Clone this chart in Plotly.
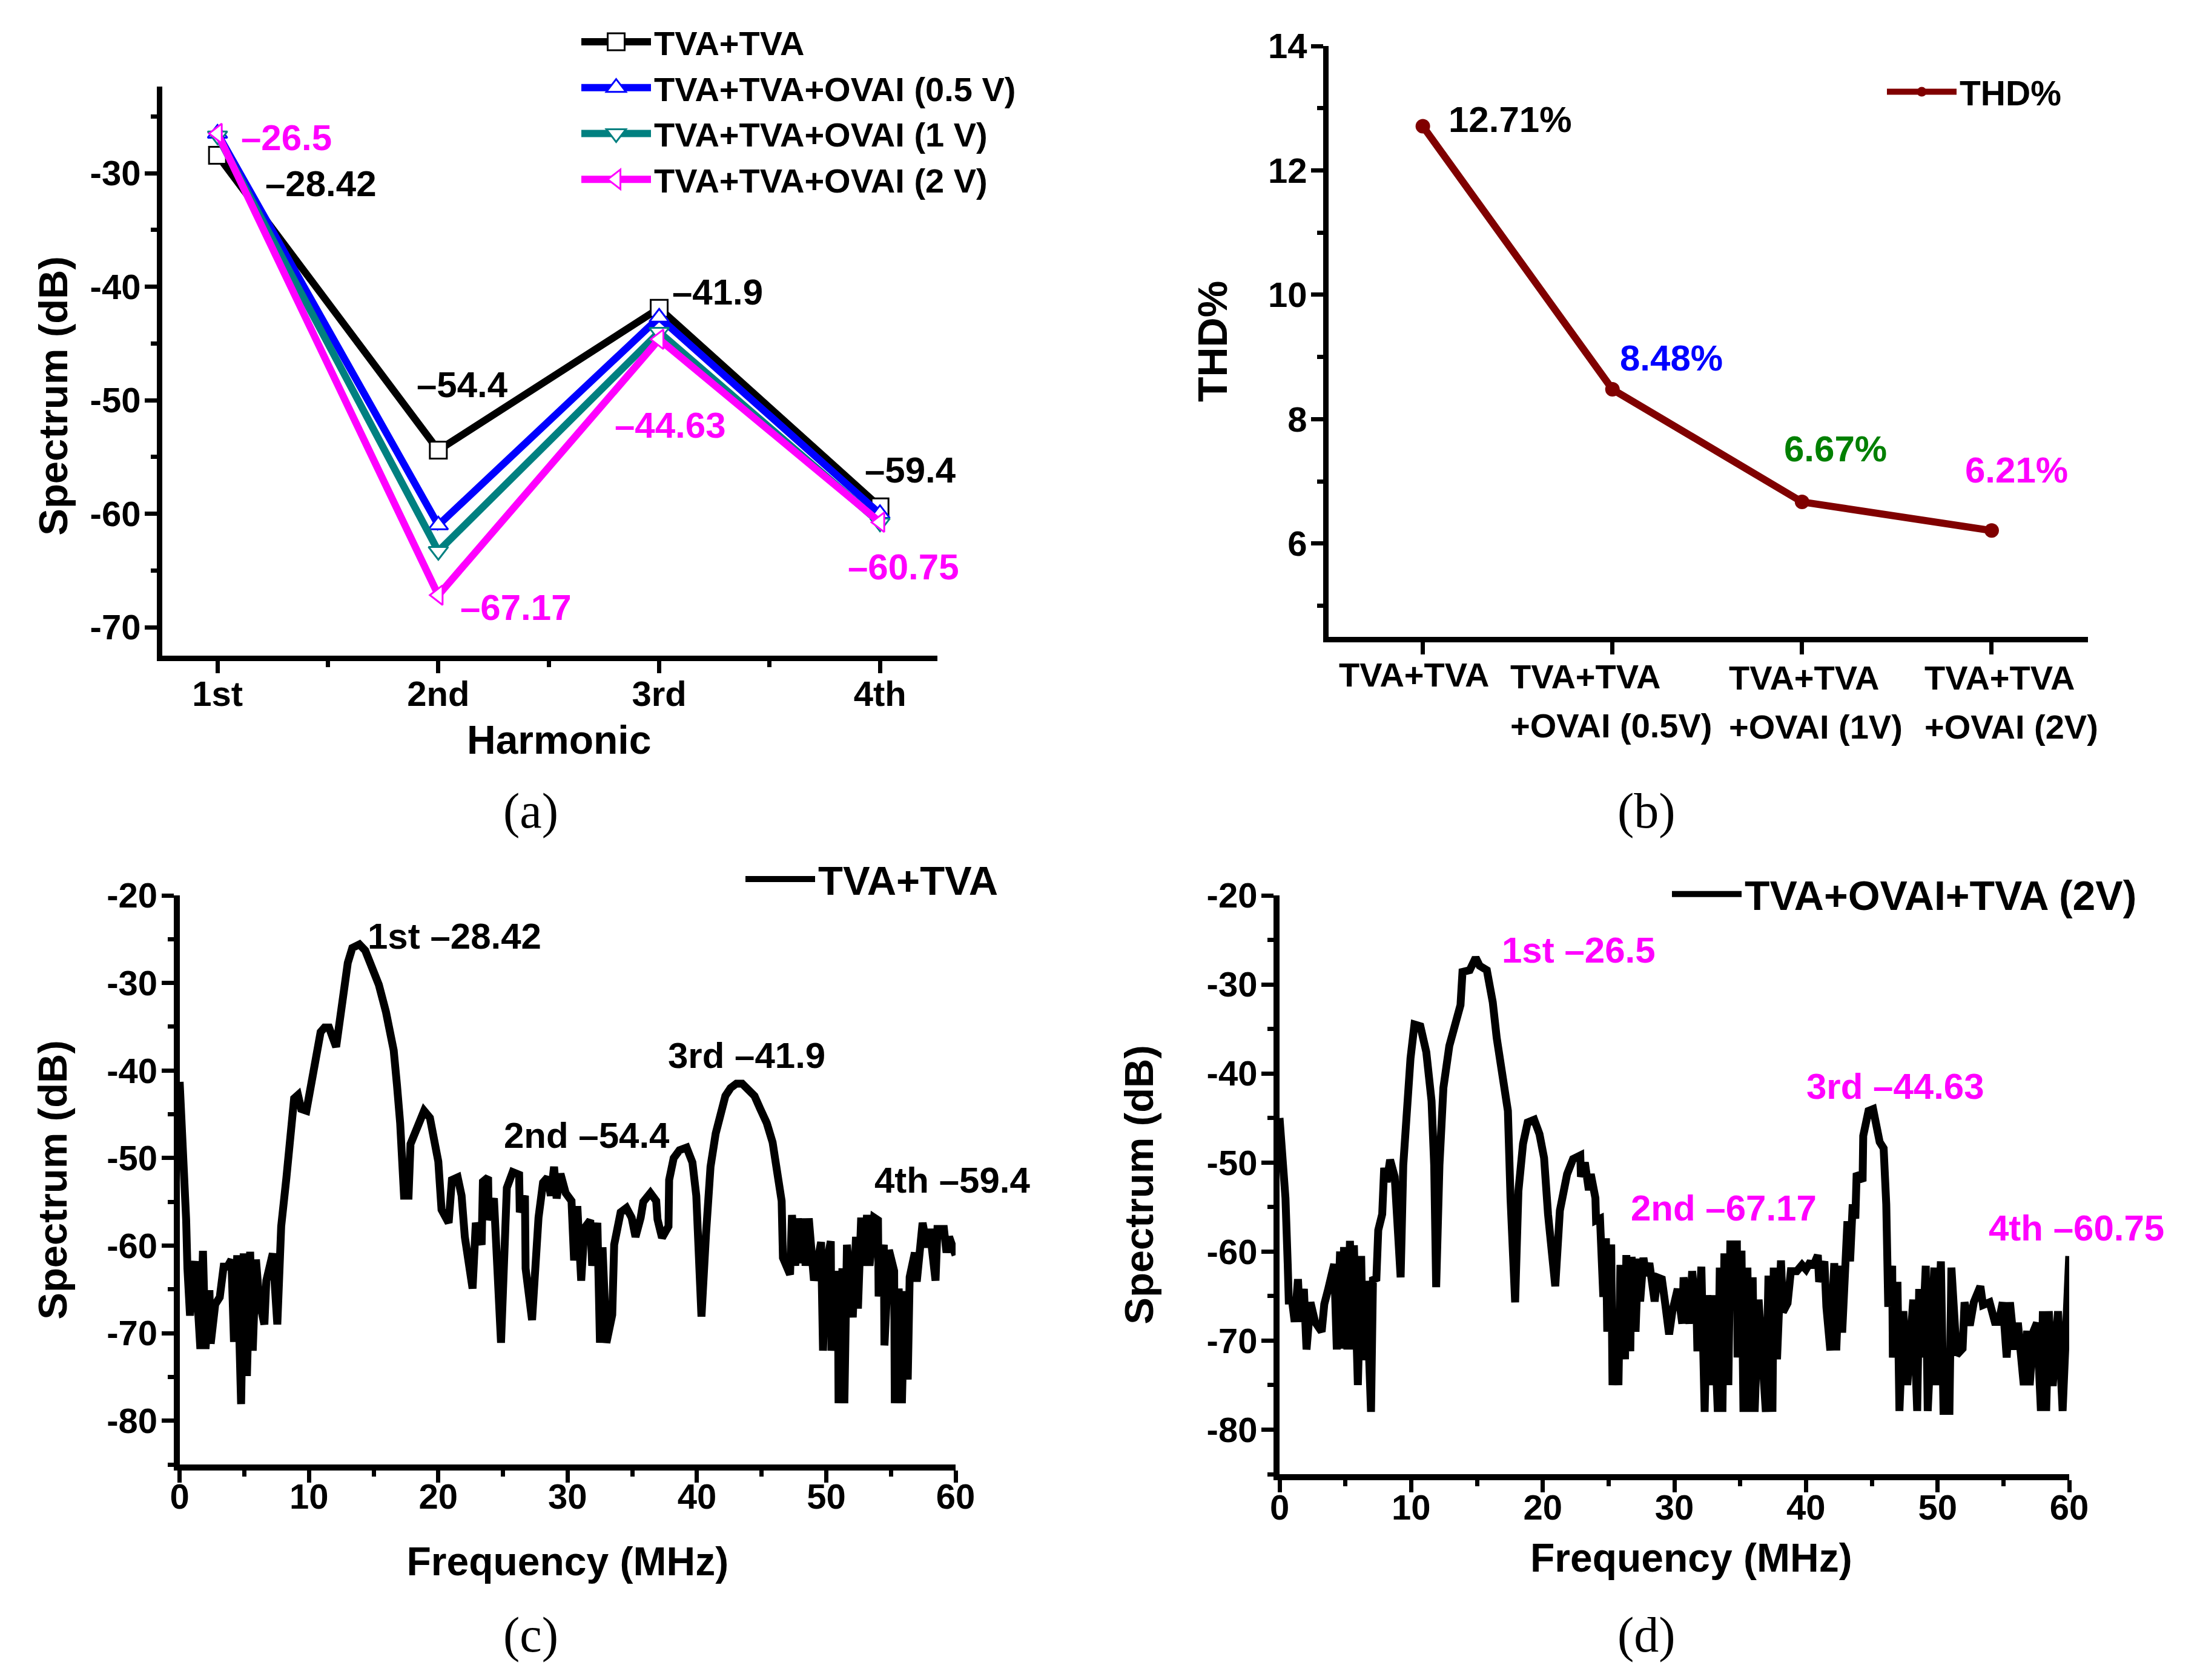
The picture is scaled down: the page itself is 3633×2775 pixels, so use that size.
import plotly.graph_objects as go

W, H = 3633, 2775
FONT = "Liberation Sans"

# Panel (a): harmonic levels
harm_pos = [1, 2, 3, 4]
harm_labels = ["1st", "2nd", "3rd", "4th"]
tva = [-28.42, -54.4, -41.9, -59.4]
ovai_05 = [-26.5, -61.0, -42.7, -60.0]
ovai_1 = [-26.7, -63.3, -44.0, -60.8]
ovai_2 = [-26.5, -67.17, -44.63, -60.75]
a_yticks = [-70, -60, -50, -40, -30]
a_yticklabels = ["-70", "-60", "-50", "-40", "-30"]

# Panel (b): THD
thd_pos = [1, 2, 3, 4]
thd_vals = [12.71, 8.48, 6.67, 6.21]
thd_labels = ["TVA+TVA", "TVA+TVA<br>+OVAI (0.5V)", "TVA+TVA<br>+OVAI (1V)", "TVA+TVA<br>+OVAI (2V)"]

# Panels (c), (d)
spec_yticks = [-80, -70, -60, -50, -40, -30, -20]
spec_yticklabels = ["-80", "-70", "-60", "-50", "-40", "-30", "-20"]

c_freq = [0, .3, .5, .6, .8, 1, 1.2, 1.6, 1.8, 2, 2.3, 2.4, 2.75, 3.1, 3.4, 3.7, 4, 4.2, 4.45, 4.75, 4.95, 5.2, 5.45,
          5.65, 5.9, 6.15, 6.55, 6.7, 7.2, 7.55, 7.85, 8.25, 8.55, 8.85, 9.15, 9.4, 9.8, 10.2, 10.5, 10.9, 11.2, 11.55,
          12.1, 12.4, 12.65, 13, 13.35, 13.9, 14.35, 14.8, 15.4, 15.95, 16.55, 16.8, 17.05, 17.35, 17.7, 17.85, 18.25,
          18.9, 19.35, 19.75, 20, 20.25, 20.8, 21.05, 21.5, 21.8, 22.05, 22.65, 22.9, 23.35, 23.45, 23.85, 23.9, 24.3,
          24.55, 24.85, 25.3, 25.75, 26.25, 26.3, 26.7, 26.75, 27.25, 27.75, 28.1, 28.45, 28.7, 28.95, 29.15, 29.45,
          29.85, 30.3, 30.5, 30.75, 31.05, 31.3, 31.75, 31.9, 32.3, 32.5, 32.7, 33, 33.45, 33.6, 34.1, 34.55, 34.95,
          35.25, 35.65, 35.85, 36.4, 36.85, 36.95, 37.3, 37.8, 37.85, 38.2, 38.65, 39.2, 39.65, 39.95, 40.35, 40.7,
          41.05, 41.45, 41.8, 42.2, 42.6, 43.05, 43.5, 44, 44.45, 44.9, 45.4, 45.85, 46.2, 46.55, 46.65, 47.2, 47.35,
          47.6, 47.8, 48.1, 48.25, 48.4, 48.65, 49.05, 49.6, 49.75, 49.95, 50.35, 50.4, 50.9, 50.95, 51.25, 51.4, 51.6,
          52.05, 52.3, 52.45, 52.7, 52.9, 53.15, 53.35, 53.7, 54, 54.05, 54.45, 54.5, 54.85, 55.25, 55.3, 55.6, 55.85,
          56.05, 56.3, 56.45, 56.85, 57, 57.45, 57.8, 58, 58.45, 58.6, 59.1, 59.3, 59.5, 60]
c_db = [-41.3, -49.1, -57, -62.6, -68, -63.4, -61.8, -71.8, -60.6, -71.8, -65.1, -71.2, -66.7, -65.9, -62.4, -62.4, -61.6,
        -71, -61.1, -78.1, -60.9, -74.9, -60.7, -72, -61.6, -66.2, -69, -64, -60.9, -69, -57.8, -52.3, -46.8, -43.2,
        -42.8, -44.4, -44.6, -41.2, -38.5, -35.6, -35.1, -35.1, -37.3, -34.1, -30.6, -27.7, -26, -25.6, -26.3, -27.9,
        -30.2, -33.3, -37.7, -41.6, -46, -54.3, -54.3, -48.4, -46.8, -44.6, -45.4, -48.2, -50.4, -55.9, -57.4, -52.5,
        -52.2, -54.3, -59, -64.9, -57.4, -59.9, -52.7, -52.2, -57.1, -54.6, -61.7, -71.1, -53.4, -51.6, -51.9, -56.2,
        -54.3, -62.6, -68.5, -56.8, -52.8, -52.2, -54.3, -51, -54.6, -51.8, -54, -54.9, -61.7, -55.5, -64, -58, -57.1,
        -62.3, -57.4, -71.1, -60.2, -71.1, -67.9, -59.9, -56.2, -55.7, -56.8, -59, -56.8, -55, -54, -54.9, -57, -59.1,
        -57.8, -52.5, -50, -49.1, -48.8, -50.5, -54.3, -68.1, -58.7, -51, -47.2, -44.8, -42.9, -42, -41.5, -41.5, -42.1,
        -42.9, -44.4, -46, -48.2, -51, -54.9, -61.4, -63.3, -56.5, -62.3, -56.9, -62, -56.9, -62.3, -56.9, -64, -59.6,
        -72, -62.6, -59.5, -72, -62.9, -78, -62.6, -78, -59.9, -68.2, -59, -67.2, -56.8, -62.3, -56.5, -62.3, -56.8,
        -57.1, -65.8, -59.9, -71.4, -60.5, -62.9, -78, -64.9, -78, -65.2, -75.3, -63.6, -60.8, -64.1, -57.4, -60.2,
        -58.1, -64, -58.1, -58.1, -60.8, -59, -61.1]

d_freq = [0, .45, .62, .7, .95, 1.15, 1.4, 1.55, 1.85, 2.05, 2.35, 2.7, 3.2, 3.4, 3.7, 4.15, 4.35, 4.6, 4.75, 4.9, 5.15,
          5.35, 5.5, 5.65, 5.95, 6.2, 6.35, 6.6, 6.95, 7.1, 7.35, 7.5, 7.8, 7.95, 8.15, 8.4, 8.75, 9.2, 9.4, 9.7, 9.95,
          10.25, 10.7, 11.15, 11.55, 11.75, 11.9, 12.15, 12.45, 12.9, 13.35, 13.75, 13.9, 14.45, 14.9, 15.2, 15.75,
          16.2, 16.5, 16.85, 17.35, 17.55, 17.9, 18.15, 18.5, 18.85, 19.35, 19.75, 20.1, 20.4, 20.95, 21.3, 21.85, 22.3,
          22.85, 22.9, 23.2, 23.5, 23.65, 24, 24.05, 24.35, 24.5, 24.6, 24.8, 24.9, 25.2, 25.3, 25.5, 25.75, 25.9, 26.25,
          26.35, 26.65, 26.75, 27.05, 27.25, 27.4, 27.65, 27.85, 28.1, 28.5, 28.7, 29.05, 29.3, 29.6, 29.85, 30.25, 30.6,
          30.7, 31.15, 31.35, 31.7, 31.75, 32.05, 32.3, 32.5, 32.8, 32.95, 33.3, 33.45, 33.65, 33.8, 34.1, 34.25, 34.75,
          34.8, 35.1, 35.25, 35.55, 35.7, 35.95, 36.1, 36.4, 36.95, 37.15, 37.45, 37.55, 37.8, 38.1, 38.25, 38.6, 38.85,
          39.3, 39.7, 40, 40.35, 40.5, 40.9, 41, 41.4, 41.55, 41.85, 42.15, 42.3, 42.55, 42.75, 43.05, 43.15, 43.35,
          43.55, 43.75, 43.85, 44.3, 44.35, 44.75, 45.1, 45.6, 45.9, 46.1, 46.2, 46.25, 46.55, 46.6, 46.95, 47.1, 47.4,
          47.7, 48.15, 48.45, 48.6, 48.8, 49.1, 49.25, 49.75, 49.9, 50.25, 50.45, 50.9, 51.05, 51.45, 51.9, 52.05, 52.45,
          52.75, 53.25, 53.45, 53.95, 54.35, 54.65, 54.95, 55.25, 55.5, 55.85, 56.1, 56.55, 56.8, 57, 57.3, 57.55, 57.85,
          58, 58.25, 58.45, 58.75, 59.15, 59.5, 60]
d_db = [-45, -54, -61.4, -65.5, -65.5, -67.9, -63.1, -67.9, -64.2, -71, -65.7, -67.9, -69, -65.9, -64.2, -61.4, -71, -60,
        -70.9, -59.5, -71, -58.8, -71, -59.3, -75, -60.5, -72.2, -63.3, -78, -62.9, -63.3, -57.6, -55.8, -50.6, -52.2,
        -49.7, -51.6, -62.9, -50.3, -42, -38.3, -34.5, -34.7, -37.6, -43.1, -50.3, -64, -50.3, -41.6, -36.9, -34.2,
        -32.3, -28.6, -28.4, -27, -27.9, -28.4, -32, -36, -39.8, -44.2, -54, -65.7, -53.2, -47.9, -45.5, -45.2, -46.8,
        -49.5, -55.8, -63.9, -55.4, -51.3, -49.6, -49.2, -51.6, -50, -53.1, -51.3, -54, -56.5, -56.3, -61.1, -65.1,
        -58.5, -69, -59.2, -75, -69, -75, -61.5, -72.1, -60.4, -71.2, -60.6, -69, -60.8, -65.6, -60.7, -62.7, -61.3,
        -65.6, -62.9, -63.1, -65.8, -69.3, -66.7, -64.2, -68.1, -62.9, -68.1, -62.2, -67.8, -71.2, -61.7, -78, -64.9,
        -75, -64.9, -78, -61.8, -78, -60.2, -75, -59.2, -59.2, -71.9, -59.9, -78, -61.8, -78, -62.9, -78, -65.4, -78,
        -62.7, -78, -61.8, -72.1, -61, -66.8, -65.8, -62.2, -62.2, -61.5, -62, -61.1, -61.8, -60.4, -63.4, -61.1, -66.2,
        -71.1, -61.3, -71.1, -61.6, -69.1, -61.8, -56.6, -61.1, -54.7, -56.3, -51.2, -52.1, -47, -44.2, -44, -47.7,
        -48.4, -54.7, -62.1, -66.2, -61.6, -71.9, -63.4, -77.9, -66.7, -75, -65.4, -77.9, -64.2, -71.9, -61.6, -77.9,
        -61.8, -75, -61.1, -77.9, -77.9, -61.8, -71.6, -70.9, -65.7, -68.3, -65.7, -63.9, -66, -65.7, -67.9, -67.9,
        -65.7, -71.9, -65.7, -71, -68, -75, -68.9, -75, -68.9, -68, -77.9, -66.7, -77.9, -66.7, -75.1, -66.7, -77.9, -60.5]


def xdom(a, b):
    return [a / W, b / W]


def ydom(top, bottom):
    return [1 - bottom / H, 1 - top / H]


fig = go.Figure()

styles_a = [("TVA+TVA", tva, "#000000", "square"),
            ("TVA+TVA+OVAI (0.5 V)", ovai_05, "#0000FF", "triangle-up"),
            ("TVA+TVA+OVAI (1 V)", ovai_1, "#008080", "triangle-down"),
            ("TVA+TVA+OVAI (2 V)", ovai_2, "#FF00FF", "triangle-left")]
for name, vals, col, sym in styles_a:
    fig.add_trace(go.Scatter(x=harm_pos, y=vals, name=name, mode="lines+markers", xaxis="x", yaxis="y", legend="legend",
                             line=dict(color=col, width=12),
                             marker=dict(symbol=sym, size=28, color="white", line=dict(color=col, width=3))))
fig.add_trace(go.Scatter(x=thd_pos, y=thd_vals, name="THD%", mode="lines+markers", xaxis="x2", yaxis="y2", legend="legend2",
                         line=dict(color="#800000", width=12), marker=dict(symbol="circle", size=24, color="#800000")))
fig.add_trace(go.Scatter(x=c_freq, y=c_db, name="TVA+TVA", mode="lines", xaxis="x3", yaxis="y3", legend="legend3",
                         line=dict(color="black", width=13)))
fig.add_trace(go.Scatter(x=d_freq, y=d_db, name="TVA+OVAI+TVA (2V)", mode="lines", xaxis="x4", yaxis="y4", legend="legend4",
                         line=dict(color="black", width=13)))

TICKF = dict(family=FONT, size=58, color="black", weight=700)


def axis(domain, rng, lw=9, title=None, standoff=20, tsize=66, minor=None, **kw):
    m = dict(ticks="outside", ticklen=10, tickwidth=7, tickcolor="black", showgrid=False)
    if minor:
        m.update(minor)
    d = dict(domain=domain, range=rng, showline=True, linewidth=lw, linecolor="black", showgrid=False, zeroline=False,
             automargin=False, ticks="outside", ticklen=20, tickwidth=7, tickcolor="black", tickfont=TICKF, minor=m)
    if title:
        d["title"] = dict(text=title, font=dict(family=FONT, size=tsize, color="black", weight=700), standoff=standoff)
    d.update(kw)
    return d


def legend_box(x, y, size=57, iw=115):
    return dict(x=x / W, y=1 - y / H, xanchor="left", yanchor="top", bgcolor="rgba(0,0,0,0)", borderwidth=0,
                font=dict(family=FONT, size=size, color="black", weight=700), itemwidth=iw, itemsizing="trace",
                tracegroupgap=0)


fig.update_layout(
    width=W, height=H, margin=dict(l=0, r=0, t=0, b=0), autosize=False, paper_bgcolor="white", plot_bgcolor="white",
    font=dict(family=FONT, color="black", weight=700),
    xaxis=axis(xdom(268, 1548), [0.75, 4.26], anchor="y", tickmode="array", tickvals=harm_pos,
               ticktext=harm_labels, ticklabelstandoff=-16, minor=dict(tickmode="array", tickvals=[1.5, 2.5, 3.5])),
    yaxis=axis(ydom(143, 1083), [-72.5, -22.37], anchor="x", tickmode="array",
               tickvals=a_yticks, ticktext=a_yticklabels, ticklabelstandoff=-5, minor=dict(dtick=5, tick0=-70)),
    xaxis2=axis(xdom(2194, 3448), [0.503, 4.508], anchor="y2", tickmode="array", tickvals=thd_pos, showticklabels=False,
                minor=dict(ticks="")),
    yaxis2=axis(ydom(76, 1052), [4.5, 14], anchor="x2", title="THD%", standoff=49, tsize=68, dtick=2, tick0=6,
                ticklabelstandoff=-5, minor=dict(dtick=1, tick0=5)),
    xaxis3=axis(xdom(296.7, 1578), [0, 60], lw=10, anchor="y3", title="Frequency (MHz)", standoff=57, dtick=10, tick0=0,
                ticklabelstandoff=-27, minor=dict(dtick=5, tick0=0)),
    yaxis3=axis(ydom(1479, 2419), [-85, -20], lw=10, anchor="x3", title="Spectrum (dB)", standoff=48, tsize=67, tickmode="array",
                tickvals=spec_yticks, ticktext=spec_yticklabels, ticklabelstandoff=-5, minor=dict(dtick=5, tick0=-85)),
    xaxis4=axis(xdom(2113, 3417), [0, 60], lw=10, anchor="y4", dtick=10, tick0=0,
                ticklabelstandoff=-25, minor=dict(dtick=5, tick0=0)),
    yaxis4=axis(ydom(1479, 2435), [-85, -20], lw=10, anchor="x4", title="Spectrum (dB)", standoff=70, tsize=67, tickmode="array",
                tickvals=spec_yticks, ticktext=spec_yticklabels, ticklabelstandoff=-5, minor=dict(dtick=5, tick0=-85)),
    legend=legend_box(955, 26, size=56),
    legend2=legend_box(3111, 108),
    legend3=legend_box(1226, 1402, size=67),
    legend4=legend_box(2756, 1426, size=68),
)

S = 2.318
MAG, BLK = "#FF00FF", "#000000"
labels = [
    ("–26.5", 171, 98, MAG), ("–28.42", 188, 131, BLK), ("–41.9", 478, 208, BLK), ("–54.4", 296, 274, BLK),
    ("–44.63", 437, 303, MAG), ("–59.4", 615, 335, BLK), ("–60.75", 603, 404, MAG), ("–67.17", 327, 433, MAG),
    ("12.71%", 1031, 85, BLK), ("8.48%", 1153, 255, "#0000FF"), ("6.67%", 1270, 320, "#008000"), ("6.21%", 1399, 335, MAG),
    ("1st –28.42", 261, 667, BLK), ("3rd –41.9", 475, 752, BLK), ("2nd –54.4", 358, 809, BLK), ("4th –59.4", 622, 841, BLK),
    ("1st –26.5", 1069, 677, MAG), ("3rd –44.63", 1286, 774, MAG), ("2nd –67.17", 1161, 861, MAG), ("4th –60.75", 1416, 875, MAG),
]
ann = []
for t, x, y, c in labels:
    ann.append(dict(text=t, x=x * S / W, y=1 - y * S / H, xref="paper", yref="paper", xanchor="left", yanchor="middle",
                    showarrow=False, font=dict(family=FONT, size=60, color=c, weight=700)))
thd_left = [953, 1075, 1231, 1370]
thd_top = [481, 482, 483, 483]
for t, x, y in zip(thd_labels, thd_left, thd_top):
    for i, line in enumerate(t.split("<br>")):
        ann.append(dict(text=line, x=x * S / W, y=1 - (y + i * 35) * S / H, xref="paper", yref="paper", xanchor="left",
                        yanchor="middle", showarrow=False, font=dict(family=FONT, size=56, color="black", weight=700)))
# Axis titles that sit off-centre in the original
for t, x, y, ang in [("Spectrum (dB)", 38, 282, -90), ("Harmonic", 398, 527, 0), ("Frequency (MHz)", 1205, 1110, 0)]:
    ann.append(dict(text=t, x=x * S / W, y=1 - y * S / H, xref="paper", yref="paper", xanchor="center", yanchor="middle",
                    textangle=ang, showarrow=False, font=dict(family=FONT, size=67 if ang else 66, color="black", weight=700)))
for t, x, y in [("(a)", 378, 578), ("(b)", 1173, 578), ("(c)", 378, 1165), ("(d)", 1173, 1165)]:
    ann.append(dict(text=t, x=x * S / W, y=1 - y * S / H, xref="paper", yref="paper", xanchor="center", yanchor="middle",
                    showarrow=False, font=dict(family="Liberation Serif", size=82, color="black", weight=400)))
fig.update_layout(annotations=ann)

# Plotly caps legend symbols at 16 px and legend lines at 10 px; widen them to the drawn size.
legend_js = """
document.body.style.margin='0';
document.querySelectorAll('.legend .legendlines path').forEach(function(p){p.style.strokeWidth='12px';});
document.querySelectorAll('.legend .legendpoints path').forEach(function(p){
  var t=p.getAttribute('transform')||'';
  p.setAttribute('transform',t+' scale(1.75)');
  if(parseFloat(p.style.strokeWidth)>0){p.style.strokeWidth='1.7px';}
});
"""
fig.write_html("out.html", post_script=legend_js, config=dict(displayModeBar=False))
